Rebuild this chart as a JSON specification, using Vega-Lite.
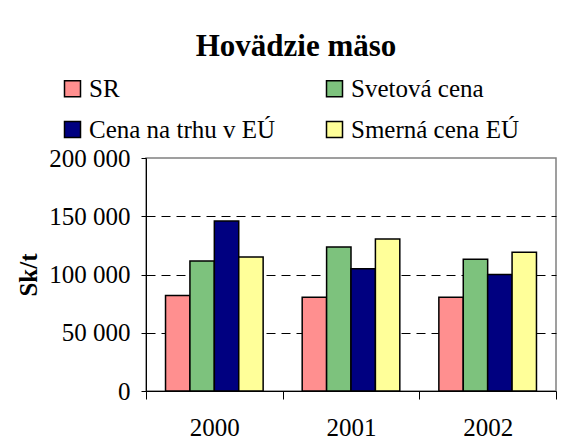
{
  "$schema": "https://vega.github.io/schema/vega-lite/v6.json",
  "width": 410,
  "height": 233,
  "autosize": {"type": "none"},
  "padding": {"left": 146, "top": 158, "right": 16, "bottom": 56},
  "background": "white",
  "title": {
    "text": "Hovädzie mäso",
    "font": "Liberation Serif, Times New Roman, serif",
    "fontSize": 31,
    "fontWeight": "bold",
    "color": "black",
    "anchor": "middle",
    "dx": -55,
    "offset": 13
  },
  "data": {
    "values": [
      {"year": "2000", "series": "SR", "value": 82000},
      {"year": "2000", "series": "Svetová cena", "value": 111500},
      {"year": "2000", "series": "Cena na trhu v EÚ", "value": 146000},
      {"year": "2000", "series": "Smerná cena EÚ", "value": 115000},
      {"year": "2001", "series": "SR", "value": 80500},
      {"year": "2001", "series": "Svetová cena", "value": 123500},
      {"year": "2001", "series": "Cena na trhu v EÚ", "value": 105000},
      {"year": "2001", "series": "Smerná cena EÚ", "value": 130500},
      {"year": "2002", "series": "SR", "value": 80500},
      {"year": "2002", "series": "Svetová cena", "value": 113000},
      {"year": "2002", "series": "Cena na trhu v EÚ", "value": 100000},
      {"year": "2002", "series": "Smerná cena EÚ", "value": 119000}
    ]
  },
  "mark": {"type": "bar", "stroke": "black", "strokeWidth": 1.5},
  "encoding": {
    "x": {
      "field": "year",
      "type": "nominal",
      "scale": {"paddingInner": 0, "paddingOuter": 0},
      "axis": {
        "title": null,
        "labelAngle": 0,
        "tickBand": "extent",
        "tickSize": 8,
        "tickColor": "black",
        "domainColor": "black",
        "domainWidth": 1,
        "labelFont": "Liberation Serif, Times New Roman, serif",
        "labelFontSize": 25,
        "labelColor": "black",
        "labelPadding": 16,
        "grid": false
      }
    },
    "xOffset": {
      "field": "series",
      "type": "nominal",
      "sort": ["SR", "Svetová cena", "Cena na trhu v EÚ", "Smerná cena EÚ"],
      "scale": {"paddingInner": 0, "paddingOuter": 0.8}
    },
    "y": {
      "field": "value",
      "type": "quantitative",
      "scale": {"domain": [0, 200000], "nice": false},
      "axis": {
        "values": [0, 50000, 100000, 150000, 200000],
        "labelExpr": "replace(format(datum.value, ','), ',', ' ')",
        "title": "Sk/t",
        "titleFont": "Liberation Serif, Times New Roman, serif",
        "titleFontSize": 25,
        "titleFontWeight": "bold",
        "titleColor": "black",
        "titlePadding": 7,
        "tickSize": 5,
        "tickColor": "black",
        "domainColor": "black",
        "labelFont": "Liberation Serif, Times New Roman, serif",
        "labelFontSize": 25,
        "labelColor": "black",
        "labelPadding": 11,
        "grid": true,
        "gridColor": "black",
        "gridDash": [9, 6],
        "gridOpacity": {"condition": {"test": "datum.value <= 0 || datum.value >= 200000", "value": 0}, "value": 1}
      }
    },
    "color": {
      "field": "series",
      "type": "nominal",
      "sort": ["SR", "Svetová cena", "Cena na trhu v EÚ", "Smerná cena EÚ"],
      "scale": {
        "domain": ["SR", "Svetová cena", "Cena na trhu v EÚ", "Smerná cena EÚ"],
        "range": ["#FF8F8F", "#7DC27D", "#000080", "#FFFF99"]
      },
      "legend": {
        "title": null,
        "orient": "none",
        "legendX": -86,
        "legendY": -82,
        "direction": "horizontal",
        "columns": 2,
        "columnPadding": 46,
        "rowPadding": 15,
        "symbolType": "square",
        "symbolSize": 256,
        "symbolStrokeColor": "black",
        "symbolStrokeWidth": 1.5,
        "symbolOpacity": 1,
        "labelFont": "Liberation Serif, Times New Roman, serif",
        "labelFontSize": 25,
        "labelColor": "black",
        "labelOffset": 4,
        "labelLimit": 400
      }
    }
  },
  "config": {
    "view": {"stroke": "#808080", "strokeWidth": 1.5},
    "font": "Liberation Serif, Times New Roman, serif"
  }
}
